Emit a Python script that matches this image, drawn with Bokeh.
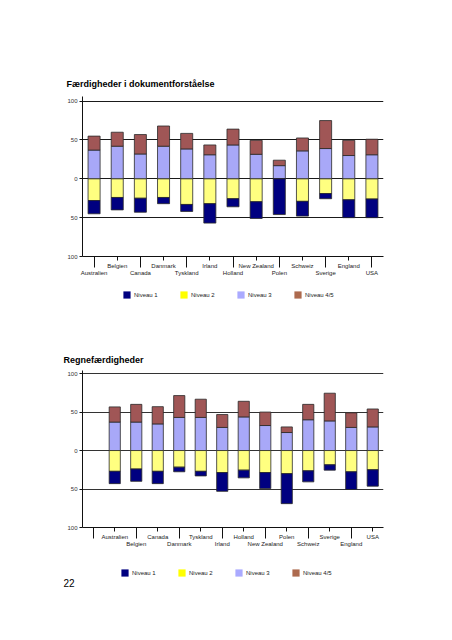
from bokeh.plotting import figure
from bokeh.layouts import column
from bokeh.models import FixedTicker, Legend, LegendItem, Range1d, Title
from bokeh.embed import file_html
from bokeh.resources import INLINE

# ---------------- data ----------------
countries = ["Australien", "Belgien", "Canada", "Danmark", "Tyskland", "Irland",
             "Holland", "New Zealand", "Polen", "Schweiz", "Sverige", "England", "USA"]
level_names = ["Niveau 1", "Niveau 2", "Niveau 3", "Niveau 4/5"]
y_ticks = [100, 50, 0, -50, -100]
y_tick_labels = ["100", "50", "0", "50", "100"]

# Færdigheder i dokumentforståelse (percent at each level)
dok_niveau1 = [17, 16, 18, 8, 9, 25, 10.4, 21.5, 46, 19, 6.6, 23, 24]
dok_niveau2 = [28, 24, 25, 24, 33, 32, 25.6, 29.5, 0, 29, 19, 27, 26]
dok_niveau3 = [37, 42, 32, 42, 38.5, 31, 43.6, 31.6, 17, 36, 39, 30, 31]
dok_niveau45 = [18, 18, 25, 26, 20, 12.6, 20.4, 18, 7, 16.6, 36, 19.6, 20]

# Regnefærdigheder
regne_niveau1 = [16, 16, 16, 6, 6, 24.4, 10, 20.8, 39, 14.3, 6.9, 22.9, 21.3]
regne_niveau2 = [27, 24, 27, 21.6, 27, 28.6, 25.5, 28.6, 30, 26.4, 18.6, 27.7, 25]
regne_niveau3 = [37, 37, 34.6, 43, 43, 30, 43.7, 32.5, 23.4, 40, 38.5, 30, 30.7]
regne_niveau45 = [19.7, 23, 22.4, 28.4, 23.7, 16.8, 20.3, 17.5, 7.3, 20, 36, 19, 23.3]

page_number = "22"

# ---------------- style ----------------
FONT = "Liberation Sans"
BAR_COLORS = ["#000080", "#FFFF80", "#A8A8F8", "#A05656"]
LEG_COLORS = ["#000080", "#FFFF00", "#AAAAFF", "#AD6A4E"]
OUTLINE = "#2a2a2a"
W = 436
B_LEFT = 82
B_RIGHT = 53


def make_chart(title, n1, n2, n3, n45, lead_slots, height, b_top, b_bottom,
               y_top, title_offset, title_standoff, grid_color):
    n = len(countries)
    xs = list(range(n))
    p = figure(width=W, height=height, output_backend="svg",
               toolbar_location=None, tools="",
               x_range=Range1d(-0.5 - lead_slots, n - 0.5),
               y_range=Range1d(-100, y_top),
               min_border_left=B_LEFT, min_border_right=B_RIGHT,
               min_border_top=b_top, min_border_bottom=b_bottom)
    p.outline_line_color = None
    p.xgrid.visible = False
    p.ygrid.ticker = FixedTicker(ticks=[100, 50, 0, -50])
    p.ygrid.grid_line_color = grid_color
    p.ygrid.grid_line_width = 1

    bw = 0.52
    pos_mid = n3
    pos_top = [a + b for a, b in zip(n3, n45)]
    neg_mid = [-v for v in n2]
    neg_bot = [-(a + b) for a, b in zip(n1, n2)]
    zeros = [0] * n
    p.vbar(x=xs, bottom=zeros, top=pos_mid, width=bw, fill_color=BAR_COLORS[2],
           line_color=OUTLINE, line_width=0.8)
    p.vbar(x=xs, bottom=pos_mid, top=pos_top, width=bw, fill_color=BAR_COLORS[3],
           line_color=OUTLINE, line_width=0.8)
    p.vbar(x=xs, bottom=neg_mid, top=zeros, width=bw, fill_color=BAR_COLORS[1],
           line_color=OUTLINE, line_width=0.8)
    p.vbar(x=xs, bottom=neg_bot, top=neg_mid, width=bw, fill_color=BAR_COLORS[0],
           line_color=OUTLINE, line_width=0.8)

    # x axis: staggered labels, long ticks under lower-row labels
    slots = list(range(-lead_slots, n))
    overrides = {}
    long_ticks = []
    for k, s in enumerate(slots):
        name = countries[s] if s >= 0 else ""
        if k % 2 == 0:
            overrides[s] = ("\n" + name) if name else " "
            long_ticks.append(s)
        else:
            overrides[s] = name
    xa = p.xaxis[0]
    xa.ticker = FixedTicker(ticks=slots, minor_ticks=long_ticks)
    xa.major_label_overrides = overrides
    xa.major_tick_in = 0
    xa.major_tick_out = 4
    xa.minor_tick_in = 0
    xa.minor_tick_out = 11
    xa.axis_line_color = "#111111"
    xa.major_tick_line_color = "#111111"
    xa.minor_tick_line_color = "#111111"
    xa.major_label_standoff = -5
    xa.major_label_text_font = FONT
    xa.major_label_text_font_size = "6px"
    xa.major_label_text_color = "#222222"

    ya = p.yaxis[0]
    ya.ticker = FixedTicker(ticks=y_ticks)
    ya.major_label_overrides = dict(zip(y_ticks, y_tick_labels))
    ya.major_tick_in = 0
    ya.major_tick_out = 3
    ya.minor_tick_line_color = None
    ya.axis_line_color = "#111111"
    ya.major_tick_line_color = "#111111"
    ya.major_label_standoff = 2
    ya.major_label_text_font = FONT
    ya.major_label_text_font_size = "6px"
    ya.major_label_text_color = "#333333"

    t = Title(text=title, align="left", offset=title_offset, standoff=title_standoff,
              text_font=FONT, text_font_size="9px", text_font_style="bold",
              text_color="#000000")
    p.add_layout(t, "above")
    return p


def make_legend(height, b_bottom, loc, page_text=None, page_standoff=0):
    q = figure(width=W, height=height, output_backend="svg", toolbar_location=None,
               tools="", x_range=Range1d(0, 1), y_range=Range1d(0, 1),
               x_axis_type=None, y_axis_type=None,
               min_border_left=B_LEFT, min_border_right=B_RIGHT,
               min_border_top=0, min_border_bottom=b_bottom)
    q.outline_line_color = None
    q.xgrid.visible = False
    q.ygrid.visible = False
    items = []
    for name, col in zip(level_names, LEG_COLORS):
        r = q.vbar(x=[0.5], top=[0.5], width=0.1, fill_color=col, line_color=None,
                   visible=False)
        items.append(LegendItem(label=name, renderers=[r]))
    leg = Legend(items=items, orientation="horizontal", location=loc,
                 glyph_width=9, glyph_height=9, label_standoff=3, label_width=45,
                 spacing=0, padding=0, margin=0, border_line_color=None,
                 background_fill_alpha=0, label_text_font=FONT,
                 label_text_font_size="6px", label_text_color="#222222")
    q.add_layout(leg, "center")
    if page_text is not None:
        q.add_layout(Title(text=page_text, align="left", offset=63 - B_LEFT,
                           standoff=page_standoff,
                           text_font=FONT, text_font_size="10px",
                           text_font_style="normal", text_color="#000000"), "below")
    return q


p1 = make_chart("Færdigheder i dokumentforståelse",
                dok_niveau1, dok_niveau2, dok_niveau3, dok_niveau45,
                lead_slots=0, height=284, b_top=96, b_bottom=28,
                y_top=106, title_offset=-16, title_standoff=16, grid_color="#1a1a1a")
l1 = make_legend(30, 0, (40, 15))

p2 = make_chart("Regnefærdigheder",
                regne_niveau1, regne_niveau2, regne_niveau3, regne_niveau45,
                lead_slots=1, height=243, b_top=56, b_bottom=30,
                y_top=104, title_offset=-19, title_standoff=12, grid_color="#333333")
l2 = make_legend(43, 22, (38, 1), page_text=page_number, page_standoff=-3)

layout = column(p1, l1, p2, l2, spacing=0)
open("out.html", "w").write(file_html(layout, INLINE))
